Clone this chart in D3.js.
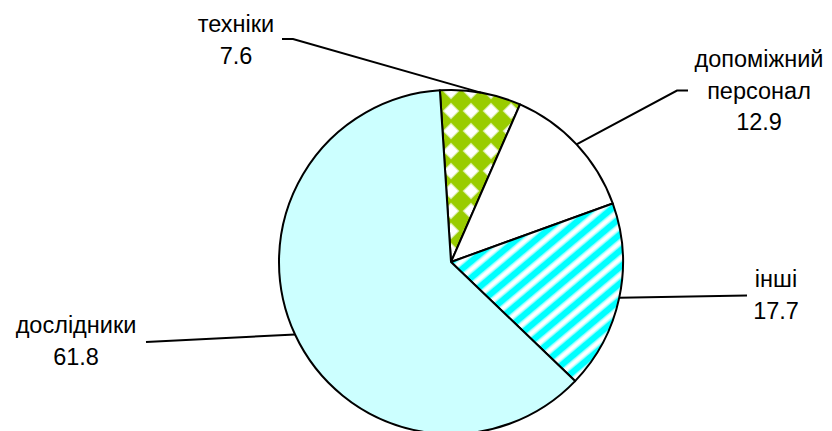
<!DOCTYPE html>
<html>
<head>
<meta charset="utf-8">
<script src="https://cdn.jsdelivr.net/npm/d3@7/dist/d3.min.js"></script>
<style>
  html, body { margin: 0; padding: 0; background: #fff; }
  svg { display: block; }
  text { font-family: "Liberation Sans", Arial, sans-serif; font-size: 23.5px; fill: #000; }
</style>
</head>
<body>
<svg id="chart" width="832" height="431"></svg>
<script>
// ---- data ----
const categories = ["техніки", "допоміжний персонал", "інші", "дослідники"];
const labelLines = [["техніки"], ["допоміжний", "персонал"], ["інші"], ["дослідники"]];
const values = [7.6, 12.9, 17.7, 61.8];
const valueLabels = ["7.6", "12.9", "17.7", "61.8"];

// ---- layout ----
const W = 832, H = 431;
const cx = 451, cy = 262, R = 172;
const startDeg = -3.7;
const fills = ["url(#diamonds)", "#FFFFFF", "url(#stripes)", "#CCFFFF"];
// label anchor (center x, first baseline) and leader elbow points
const labelPos = [
  { x: 236, y: 32, elbow: [[282, 39], [293, 39]] },
  { x: 759, y: 67, elbow: [[688, 90.5], [677, 90.5]] },
  { x: 776, y: 287, elbow: [[747, 295.5]] },
  { x: 76, y: 333, elbow: [[146, 342]] }
];
const lineH = 31.5;

const svg = d3.select("#chart");
const defs = svg.append("defs");

// diamond checker pattern (green with white diamonds)
const pd = defs.append("pattern").attr("id", "diamonds")
  .attr("patternUnits", "userSpaceOnUse").attr("width", 20).attr("height", 20)
  .attr("x", cx - 1).attr("y", cy - 3);
pd.append("rect").attr("width", 20).attr("height", 20).attr("fill", "#99CC00");
pd.append("path").attr("d", "M10,1.5 L18.5,10 L10,18.5 L1.5,10 Z").attr("fill", "#d6eca0");
pd.append("path").attr("d", "M10,3 L17,10 L10,17 L3,10 Z").attr("fill", "#FFFFFF");

// diagonal stripe pattern (cyan with white upward stripes)
const ps = defs.append("pattern").attr("id", "stripes")
  .attr("patternUnits", "userSpaceOnUse").attr("width", 14).attr("height", 12.5)
  .attr("patternTransform", "rotate(-40)");
ps.append("rect").attr("width", 14).attr("height", 12.5).attr("fill", "#00FFFF");
ps.append("rect").attr("y", 4).attr("width", 14).attr("height", 4.5).attr("fill", "#FFFFFF");
ps.append("rect").attr("y", 3).attr("width", 14).attr("height", 1).attr("fill", "#99ffff");
ps.append("rect").attr("y", 8.5).attr("width", 14).attr("height", 1).attr("fill", "#99ffff");

const toRad = d => d * Math.PI / 180;
const pie = d3.pie().sort(null).value(d => d)
  .startAngle(toRad(startDeg)).endAngle(toRad(startDeg) + 2 * Math.PI);
const arcs = pie(values);
const arc = d3.arc().innerRadius(0).outerRadius(R);

const g = svg.append("g").attr("transform", `translate(${cx},${cy})`);
g.selectAll("path.slice").data(arcs).enter().append("path")
  .attr("class", "slice")
  .attr("d", arc)
  .attr("fill", (d, i) => fills[i])
  .attr("stroke", "#000").attr("stroke-width", 2).attr("stroke-linejoin", "round");

// leader lines
const line = d3.line();
arcs.forEach((a, i) => {
  const mid = (a.startAngle + a.endAngle) / 2;
  const p = [cx + R * Math.sin(mid), cy - R * Math.cos(mid)];
  const pts = labelPos[i].elbow.concat([p]);
  svg.append("path").attr("d", line(pts))
    .attr("fill", "none").attr("stroke", "#000").attr("stroke-width", 2);
});

// labels
categories.forEach((c, i) => {
  const lp = labelPos[i];
  const lines = labelLines[i].concat([valueLabels[i]]);
  const t = svg.append("text").attr("text-anchor", "middle");
  lines.forEach((s, k) => {
    t.append("tspan").attr("x", lp.x).attr("y", lp.y + k * lineH).text(s);
  });
});
</script>
</body>
</html>
